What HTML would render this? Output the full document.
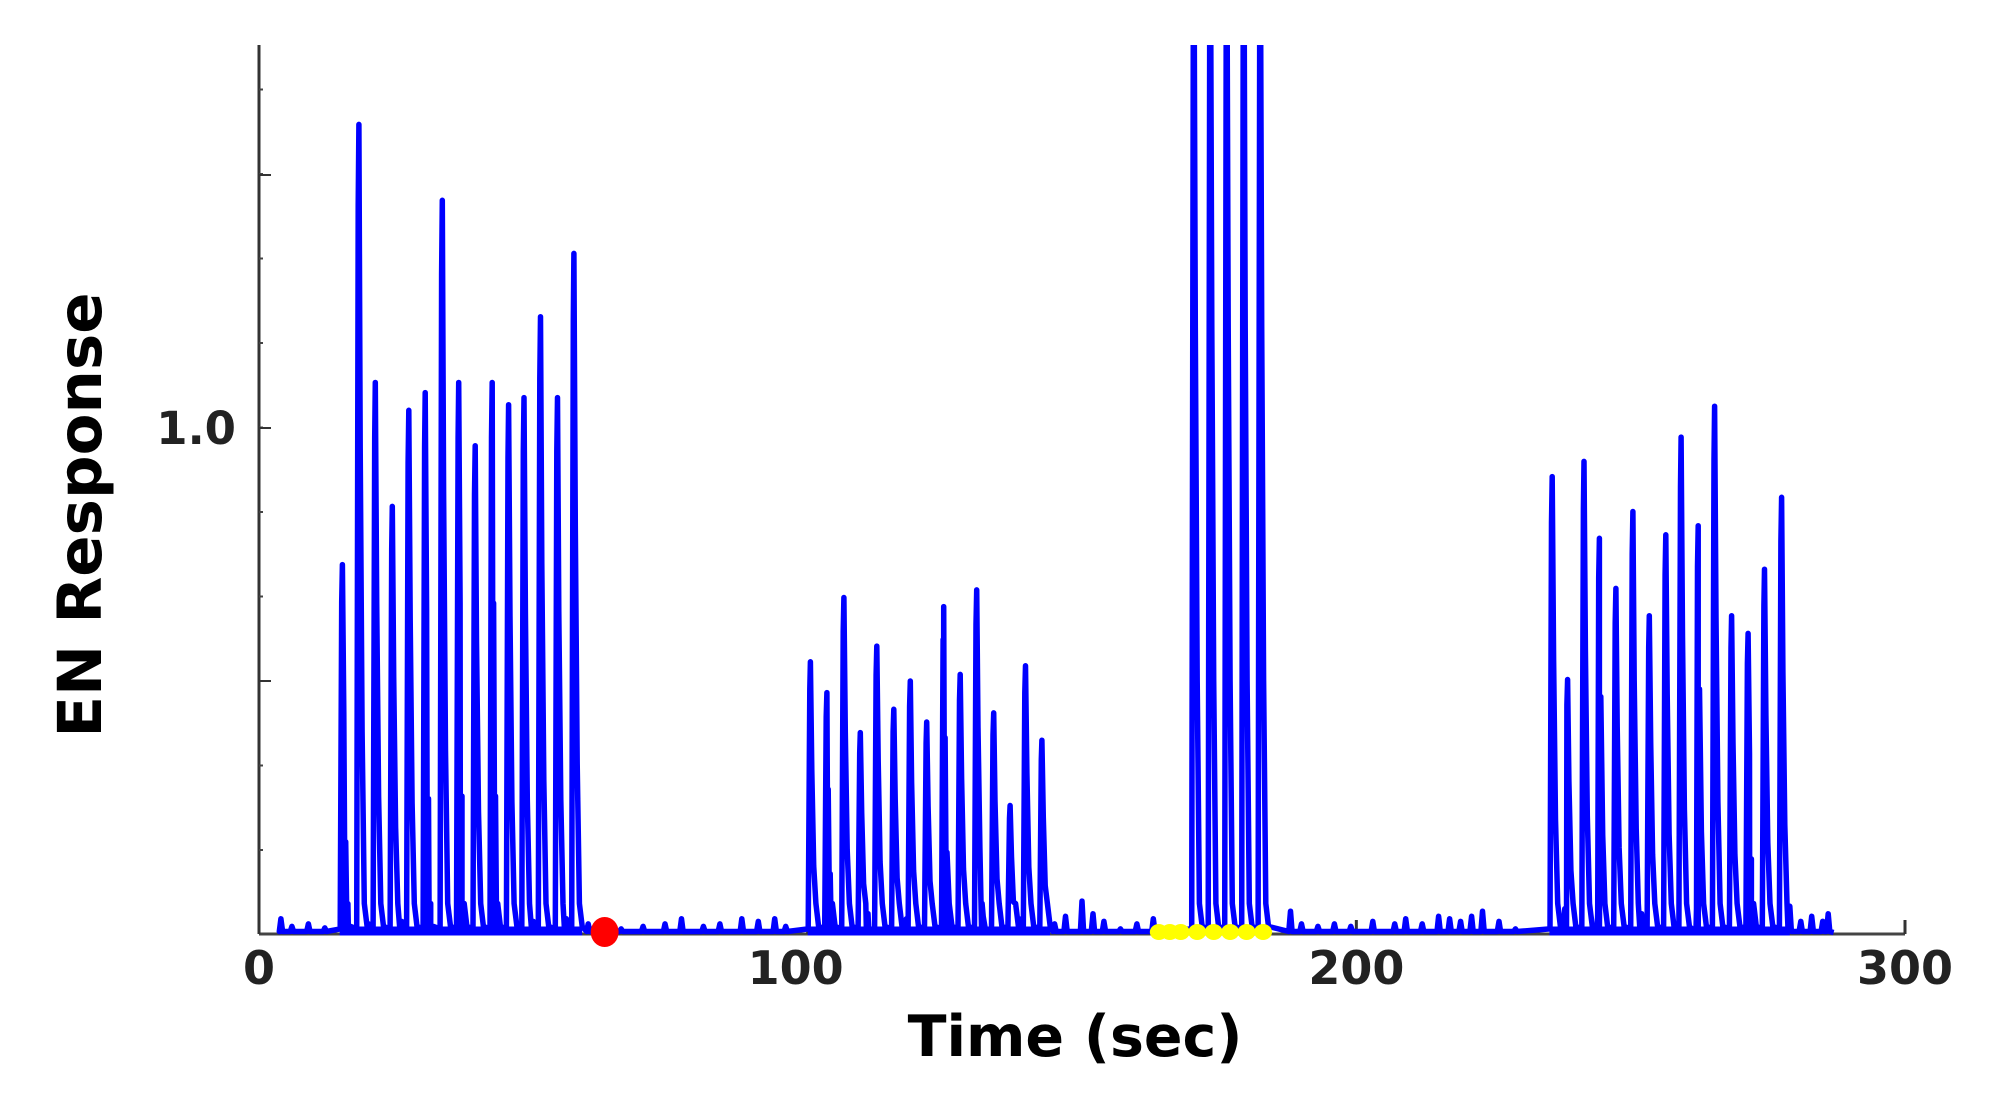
<!DOCTYPE html>
<html><head><meta charset="utf-8"><style>
html,body{margin:0;padding:0;background:#fff;}
svg{display:block;}
text{font-family:"DejaVu Sans","Liberation Sans",sans-serif;font-weight:bold;}
</style></head><body>
<svg id="chart" width="2001" height="1115" viewBox="0 0 2001 1115" xmlns="http://www.w3.org/2000/svg">
<defs><clipPath id="plotclip"><rect x="255" y="45" width="1660" height="900"/></clipPath></defs>
<g id="axes"></g>
<g id="series" clip-path="url(#plotclip)"></g>
<g id="markers"></g>
<text x="0" y="0" font-size="61" fill="#000" text-anchor="middle" transform="translate(101,515) rotate(-90)">EN Response</text>
<text x="1075" y="1056" font-size="57" fill="#000" text-anchor="middle">Time (sec)</text>
</svg>
<script>
// data
const spikeTimes1 = [15.2,18.2,21.2,24.3,27.3,30.3,33.4,36.4,39.4,42.5,45.5,48.3,51.3,54.4,57.4];
const spikeValues1 = [0.73,1.60,1.09,0.845,1.035,1.07,1.45,1.09,0.965,1.09,1.046,1.06,1.22,1.06,1.345];
const spikeTimes2 = [100.5,103.5,106.6,109.6,112.6,115.7,118.7,121.7,124.8,127.8,130.8,133.9,136.9,139.7,142.7];
const spikeValues2 = [0.538,0.477,0.665,0.398,0.569,0.444,0.50,0.419,0.647,0.513,0.68,0.437,0.254,0.53,0.383];
const spikeTimes3 = [170.4,173.4,176.4,179.5,182.5];
const spikeValues3 = [2.0,2.0,2.0,2.0,2.0];
const spikeTimes4 = [235.7,238.5,241.5,244.3,247.3,250.4,253.4,256.4,259.2,262.3,265.3,268.4,271.4,274.4,277.5];
const spikeValues4 = [0.904,0.503,0.934,0.782,0.683,0.835,0.629,0.789,0.982,0.807,1.043,0.629,0.594,0.721,0.863];
const blipTimes = [4,6,9,12,16,20,26,31,37,43,50,56,60,66,70,74,77,81,84,88,91,94,96,104,111,118,125,132,139,145,147,150,152,154,157,160,163,188,190,193,196,199,203,207,209,212,215,217,219,221,223,226,229,238,244,252,262,272,279,281,283,285,286];
const blipValues = [0.03,0.015,0.02,0.012,0.03,0.02,0.025,0.03,0.02,0.03,0.025,0.03,0.02,0.01,0.015,0.02,0.03,0.015,0.02,0.03,0.025,0.03,0.015,0.02,0.04,0.03,0.03,0.035,0.03,0.02,0.035,0.065,0.04,0.025,0.01,0.02,0.03,0.045,0.02,0.015,0.02,0.015,0.025,0.02,0.03,0.02,0.035,0.03,0.025,0.035,0.045,0.025,0.01,0.05,0.04,0.04,0.05,0.04,0.055,0.025,0.035,0.025,0.04];
const yTickValues = [0.5,1.0,1.5];
const yTickLabels = ["","1.0",""];
const xTickValues = [0,100,200,300];
const xTickLabels = ["0","100","200","300"];
const redDotTime = [63];
const yellowTimes = [164,166,168,171,174,177,180,183];

const X0=259, X1=1905, Y0=934, PXU=506;
function xs(t){return X0+(t/300)*(X1-X0);}
function ys(v){return Y0-v*PXU;}
const NS='http://www.w3.org/2000/svg';
function mk(tag,attrs,parent){const e=document.createElementNS(NS,tag);for(const k in attrs)e.setAttribute(k,attrs[k]);parent.appendChild(e);return e;}

const axes=document.getElementById('axes');
let yAxis=mk('line',{x1:X0,y1:45,x2:X0,y2:Y0,stroke:'#333','stroke-width':3},axes);


let xAxis=mk('line',{x1:X0,y1:Y0,x2:X1,y2:Y0,stroke:'#444','stroke-width':3},axes);


for(let y=Y0-84;y>50;y-=84.5){
  let m=mk('line',{x1:X0,y1:y,x2:X0+4,y2:y,stroke:'#444','stroke-width':2},axes);
  
  
}
yTickValues.forEach((v,i)=>{
  let t=mk('line',{x1:X0,y1:ys(v),x2:X0+12,y2:ys(v),stroke:'#333','stroke-width':2},axes);
  
  
  if(yTickLabels[i]){
    let l=mk('text',{x:236,y:ys(v)+16,'font-size':45,fill:'#222','text-anchor':'end'},axes);
    l.textContent=yTickLabels[i];
    
    
  }
});
xTickValues.forEach((v,i)=>{
  let t=mk('line',{x1:xs(v),y1:Y0,x2:xs(v),y2:Y0-14,stroke:'#333','stroke-width':3},axes);
  
  
  let off = (v===100)?-12:0;
  let l=mk('text',{x:xs(v)+off,y:Y0+50,'font-size':46,fill:'#222','text-anchor':'middle'},axes);
  l.textContent=xTickLabels[i];
  
  
});

const series=document.getElementById('series');
let pts=[];
function addSpike(t,v){pts.push({t:t-0.4,v:0.01},{t:t-0.12,v:v*0.9},{t:t,v:v},{t:t+0.25,v:v*0.6},{t:t+0.6,v:v*0.25},{t:t+1.0,v:0.06},{t:t+1.5,v:0.015});}
[[spikeTimes1,spikeValues1],[spikeTimes2,spikeValues2],[spikeTimes3,spikeValues3],[spikeTimes4,spikeValues4]].forEach(([ts,vs])=>{
  ts.forEach((t,i)=>addSpike(t,vs[i]));
});
blipTimes.forEach((t,i)=>{pts.push({t:t-0.3,v:0.005},{t:t,v:blipValues[i]},{t:t+0.3,v:0.005});});
pts.sort((a,b)=>a.t-b.t);
let d='M'+xs(4)+','+ys(0.005);
pts.forEach(p=>{d+=' L'+xs(p.t).toFixed(1)+','+ys(p.v).toFixed(1);});
d+=' L'+xs(287)+','+ys(0.003);
let line=mk('path',{d:d,fill:'none',stroke:'#0000ff','stroke-width':5.5,'stroke-linejoin':'round'},series);


[[spikeTimes1],[spikeTimes2],[spikeTimes3],[spikeTimes4]].forEach(([ts])=>{
  let b=mk('line',{x1:xs(ts[0]-0.5),y1:Y0-3,x2:xs(ts[ts.length-1]+1.5),y2:Y0-3,stroke:'#0000ff','stroke-width':9},series);
  
  
});

const markers=document.getElementById('markers');
yellowTimes.forEach(t=>{
  let y=mk('ellipse',{cx:xs(t),cy:Y0-2,rx:9,ry:8,fill:'#ffff00'},markers);
  
  
});
redDotTime.forEach(t=>{
  let r=mk('ellipse',{cx:xs(t),cy:Y0-2,rx:14,ry:15,fill:'#ff0000'},markers);
  
  
});
</script>
</body></html>
